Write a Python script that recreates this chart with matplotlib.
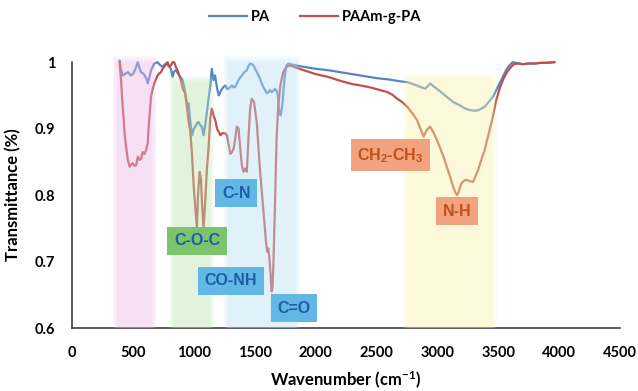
import numpy as np
import matplotlib
matplotlib.use('Agg')
from matplotlib import pyplot as plt

plt.rcParams['mathtext.default'] = 'regular'

##################
# FTIR spectra

pa_wn = [390, 400, 418, 440, 460, 480, 500, 520, 540, 555, 567, 590, 610, 621, 635, 648, 675, 702,
         720, 743, 770, 790, 811, 825, 838, 852, 865, 879, 893, 906, 920, 935, 947, 957, 971, 985,
         1000, 1012, 1025, 1039, 1052, 1066, 1079, 1093, 1107, 1120, 1134, 1147, 1161, 1174, 1191,
         1204, 1218, 1231, 1245, 1258, 1272, 1286, 1300, 1313, 1327, 1340, 1353, 1367, 1381, 1394,
         1415, 1435, 1448, 1462, 1475, 1489, 1503, 1516, 1530, 1544, 1557, 1571, 1585, 1598, 1612,
         1625, 1638, 1652, 1666, 1675, 1685, 1694, 1701, 1712, 1720, 1728, 1737, 1747, 1760, 1775,
         1790, 1900, 2000, 2100, 2200, 2300, 2400, 2500, 2600, 2700, 2751, 2800, 2832, 2870, 2900,
         2920, 2940, 2965, 2995, 3030, 3076, 3130, 3184, 3230, 3266, 3300, 3320, 3350, 3388, 3420,
         3456, 3483, 3510, 3537, 3564, 3590, 3618, 3640, 3673, 3700, 3750, 3800, 3850, 3900, 3960]
pa_t = [1.002, 0.99, 0.98, 0.983, 0.985, 0.98, 0.982, 0.99, 1.0, 0.99, 0.985, 0.982, 0.975, 0.968,
        0.978, 0.988, 0.998, 1.0, 0.996, 0.993, 0.998, 0.995, 0.99, 0.978, 0.986, 0.988, 0.984,
        0.98, 0.977, 0.973, 0.963, 0.945, 0.935, 0.938, 0.91, 0.89, 0.9, 0.903, 0.908, 0.91, 0.905,
        0.903, 0.89, 0.905, 0.925, 0.945, 0.963, 0.99, 0.973, 0.98, 0.96, 0.95, 0.955, 0.96, 0.963,
        0.965, 0.96, 0.96, 0.963, 0.965, 0.962, 0.963, 0.968, 0.973, 0.977, 0.98, 0.985, 0.988,
        0.994, 0.998, 0.997, 0.995, 0.99, 0.985, 0.98, 0.975, 0.968, 0.962, 0.958, 0.953, 0.955,
        0.958, 0.955, 0.957, 0.96, 0.958, 0.955, 0.94, 0.925, 0.92, 0.928, 0.94, 0.96, 0.98, 0.995,
        0.998, 0.997, 0.993, 0.99, 0.988, 0.985, 0.982, 0.979, 0.976, 0.974, 0.971, 0.97, 0.967,
        0.965, 0.962, 0.96, 0.964, 0.968, 0.964, 0.96, 0.955, 0.948, 0.94, 0.935, 0.93, 0.928,
        0.927, 0.927, 0.929, 0.933, 0.94, 0.948, 0.958, 0.968, 0.978, 0.988, 0.995, 1.0, 0.999,
        0.998, 0.997, 0.998, 0.998, 0.999, 0.999, 1.0]

paam_wn = [390, 397, 404, 411, 418, 425, 431, 445, 458, 472, 485, 499, 512, 526, 540, 553, 567, 580,
           594, 608, 621, 628, 635, 648, 662, 675, 690, 702, 716, 730, 743, 757, 770, 784, 797, 811,
           825, 838, 852, 865, 880, 893, 903, 913, 930, 944, 957, 971, 985, 998, 1012, 1025, 1034,
           1047, 1058, 1066, 1079, 1093, 1107, 1120, 1134, 1147, 1161, 1177, 1190, 1204, 1218, 1232,
           1245, 1258, 1272, 1286, 1300, 1313, 1327, 1340, 1353, 1367, 1381, 1394, 1408, 1421, 1435,
           1448, 1462, 1475, 1494, 1516, 1544, 1571, 1592, 1603, 1611, 1620, 1630, 1638, 1645, 1652,
           1666, 1679, 1693, 1710, 1733, 1760, 1788, 1900, 2000, 2099, 2200, 2300, 2370, 2450, 2530,
           2588, 2630, 2669, 2710, 2751, 2790, 2832, 2860, 2886, 2913, 2940, 2965, 2995, 3020, 3049,
           3076, 3103, 3125, 3144, 3160, 3171, 3185, 3198, 3220, 3239, 3265, 3293, 3315, 3334, 3360,
           3388, 3415, 3442, 3463, 3483, 3510, 3537, 3570, 3605, 3630, 3659, 3700, 3750, 3800, 3850,
           3900, 3960]
paam_t = [1.0, 0.985, 0.968, 0.945, 0.928, 0.91, 0.893, 0.87, 0.853, 0.843, 0.846, 0.848, 0.844,
          0.845, 0.858, 0.853, 0.855, 0.865, 0.862, 0.868, 0.878, 0.9, 0.918, 0.948, 0.96, 0.968,
          0.975, 0.98, 0.983, 0.985, 0.99, 0.993, 0.997, 1.0, 0.994, 0.995, 1.0, 1.0, 0.993, 0.988,
          0.98, 0.973, 0.965, 0.958, 0.953, 0.93, 0.91, 0.895, 0.86, 0.815, 0.78, 0.75, 0.8, 0.835,
          0.825, 0.79, 0.75, 0.79, 0.84, 0.87, 0.915, 0.93, 0.92, 0.912, 0.9, 0.895, 0.89, 0.893,
          0.893, 0.893, 0.89, 0.875, 0.862, 0.865, 0.87, 0.885, 0.903, 0.9, 0.87, 0.845, 0.835, 0.84,
          0.835, 0.885, 0.93, 0.945, 0.94, 0.91, 0.835, 0.775, 0.73, 0.715, 0.72, 0.705, 0.68, 0.655,
          0.66, 0.69, 0.785, 0.885, 0.935, 0.965, 0.985, 0.993, 0.995, 0.988, 0.982, 0.978, 0.972,
          0.967, 0.965, 0.962, 0.958, 0.955, 0.951, 0.945, 0.94, 0.933, 0.924, 0.913, 0.9, 0.888,
          0.898, 0.903, 0.895, 0.883, 0.872, 0.858, 0.843, 0.828, 0.815, 0.805, 0.8, 0.803, 0.812,
          0.818, 0.822, 0.823, 0.821, 0.82, 0.83, 0.838, 0.853, 0.868, 0.888, 0.908, 0.925, 0.943,
          0.96, 0.973, 0.985, 0.993, 0.997, 0.998, 0.997, 0.998, 0.998, 0.999, 0.999, 1.0]

# shaded band regions (wavenumber ranges)
band_lo = [370, 835, 1280, 2755]
band_hi = [655, 1130, 1835, 3450]
band_col = ['#eeb8e8', '#bde6b2', '#bfe2f7', '#fbf4ac']
band_top = [1.0, 0.97, 1.0, 0.975]

# group labels: text, x, y, style
lab_text = ['C-N', 'C-O-C', 'CO-NH', 'C=O', 'CH$_2$-CH$_3$', 'N-H']
lab_x = [1347, 1027, 1303, 1823, 2614, 3158]
lab_y = [0.803, 0.731, 0.671, 0.630, 0.860, 0.776]
lab_kind = ['b', 'g', 'b', 'b', 'o', 'o']

box_fc = {'b': '#62b7e4', 'g': '#7cc46b', 'o': '#f2a27e'}
box_tc = {'b': '#1f5ca6', 'g': '#1f5ca6', 'o': '#c0501c'}

yticks = [0.6, 0.7, 0.8, 0.9, 1.0]
ytick_labels = ['0.6', '0.7', '0.8', '0.9', '1']
xticks = np.arange(0, 4501, 500)

##################

fig = plt.figure(figsize=(6.38, 3.91), dpi=100)
ax = fig.add_axes([0.113, 0.161, 0.859, 0.68])

ax.plot(pa_wn, pa_t, c='#5685c4', linewidth=1.6, label='PA', clip_on=False, zorder=2)
ax.plot(paam_wn, paam_t, c='#c0504d', linewidth=1.6, label='PAAm-g-PA', clip_on=False, zorder=2)

# bands are drawn above the curves so the curves look faded inside them;
# a few stacked layers give the soft edges
for lo, hi, col, top in zip(band_lo, band_hi, band_col, band_top):
    for k in range(4):
        ax.fill_between([lo - 12 * k, hi + 12 * k], 0.6, top + 0.003 * k, color=col,
                        alpha=0.13, lw=0, zorder=3, clip_on=False)

for t, x, y, k in zip(lab_text, lab_x, lab_y, lab_kind):
    ax.text(x, y, t, ha='center', va='center', fontsize=11.5, fontweight='bold',
            family='Liberation Sans', color=box_tc[k], zorder=5,
            bbox=dict(boxstyle='square,pad=0.42', fc=box_fc[k], ec='none'))

ax.set_xlim(0, 4500)
ax.set_ylim(0.6, 1.0)
ax.set_xticks(xticks)
ax.set_yticks(yticks)
ax.set_yticklabels(ytick_labels)
ax.tick_params(length=0, labelsize=10.5)
ax.tick_params(axis='x', pad=13)
ax.tick_params(axis='y', pad=12)
for lab in ax.get_xticklabels() + ax.get_yticklabels():
    lab.set_fontweight('bold')
    lab.set_family('Lato')

for s in ['top', 'right']:
    ax.spines[s].set_visible(False)
for s in ['left', 'bottom']:
    ax.spines[s].set_color('#404040')
    ax.spines[s].set_linewidth(1.2)

ax.set_xlabel('Wavenumber (cm$^{-1}$)', fontsize=12, fontweight='bold', family='Lato', labelpad=7)
ax.set_ylabel('Transmittance (%)', fontsize=12, fontweight='bold', family='Lato', labelpad=10)

fig.legend(loc='center', bbox_to_anchor=(0.494, 0.957), ncol=2, frameon=False,
           prop={'family': 'Lato', 'weight': 'bold', 'size': 10.5},
           handlelength=2.6, columnspacing=2.0, handletextpad=0.3)

plt.savefig('out.png', dpi=100)
